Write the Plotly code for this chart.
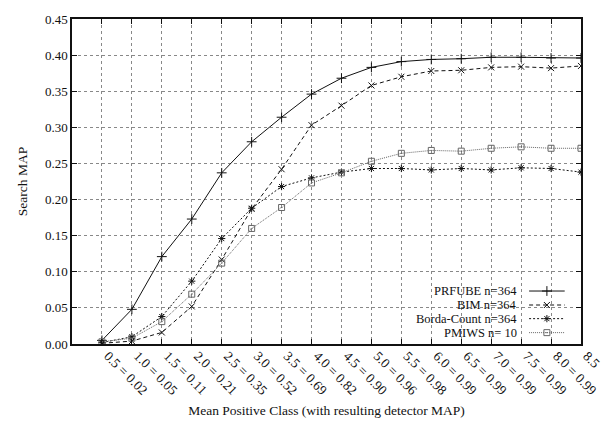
import plotly.graph_objects as go

# Mean positive class values and the resulting detector MAP for each setting
positive_class = ["0.5", "1.0", "1.5", "2.0", "2.5", "3.0", "3.5", "4.0", "4.5",
                  "5.0", "5.5", "6.0", "6.5", "7.0", "7.5", "8.0", "8.5"]
detector_map = ["0.02", "0.05", "0.11", "0.21", "0.35", "0.52", "0.69", "0.82", "0.90",
                "0.96", "0.98", "0.99", "0.99", "0.99", "0.99", "0.99", ""]

prfube = [0.005, 0.048, 0.121, 0.173, 0.237, 0.280, 0.314, 0.346, 0.368,
          0.383, 0.391, 0.394, 0.395, 0.397, 0.397, 0.396, 0.396]
bim = [0.001, 0.004, 0.016, 0.052, 0.117, 0.187, 0.242, 0.303, 0.330,
       0.358, 0.370, 0.378, 0.379, 0.383, 0.384, 0.382, 0.385]
borda = [0.002, 0.010, 0.038, 0.087, 0.146, 0.188, 0.218, 0.230, 0.238,
         0.243, 0.243, 0.241, 0.243, 0.241, 0.244, 0.243, 0.238]
pmiws = [0.003, 0.008, 0.031, 0.069, 0.112, 0.160, 0.189, 0.223, 0.237,
         0.253, 0.264, 0.268, 0.267, 0.271, 0.273, 0.271, 0.271]

series_names = ["PRFUBE n=364", "BIM n=364", "Borda-Count n=364", "PMIWS n= 10"]
series_values = [prfube, bim, borda, pmiws]

tick_text = [f"{p} = {m}" if m else p for p, m in zip(positive_class, detector_map)]

FONT = "Liberation Serif, Times New Roman, serif"
styles = [
    dict(dash="solid", symbol="cross-thin-open", color="#111", width=1.0, size=7),
    dict(dash="4px,3px", symbol="x-thin-open", color="#111", width=1.0, size=6),
    dict(dash="2px,2px", symbol="asterisk-open", color="#111", width=1.0, size=6),
    dict(dash="1px,1px", symbol="square-open-dot", color="#666", width=1.0, size=6),
]

fig = go.Figure()

for name, vals, st in zip(series_names, series_values, styles):
    fig.add_trace(go.Scatter(
        x=positive_class, y=vals, mode="lines+markers", name=name,
        line=dict(color=st["color"], width=st["width"], dash=st["dash"]),
        marker=dict(symbol=st["symbol"], size=st["size"], color=st["color"],
                    line=dict(color=st["color"], width=1.0)),
        showlegend=False, hoverinfo="skip",
    ))

# Key: right-aligned labels followed by line samples, in the lower-right corner
key_rows = [0.163, 0.120, 0.078, 0.035]
for name, st, ky in zip(series_names, styles, key_rows):
    fig.add_trace(go.Scatter(
        x=[0.898, 0.933, 0.968], y=[ky, ky, ky], xaxis="x2", yaxis="y2",
        mode="lines", line=dict(color=st["color"], width=st["width"], dash=st["dash"]),
        showlegend=False, hoverinfo="skip",
    ))
    fig.add_trace(go.Scatter(
        x=[0.933], y=[ky], xaxis="x2", yaxis="y2", mode="markers",
        marker=dict(symbol=st["symbol"], size=st["size"], color=st["color"],
                    line=dict(color=st["color"], width=1.0)),
        showlegend=False, hoverinfo="skip",
    ))
    fig.add_annotation(text=name, xref="paper", yref="paper", x=0.877, y=ky,
                       xanchor="right", yanchor="middle", showarrow=False,
                       borderpad=0, font=dict(family=FONT, size=12.5, color="#111"))

# Blank area behind the key so the grid does not run through it
fig.add_shape(type="rect", xref="paper", yref="paper", x0=0.603, x1=0.995,
              y0=0.005, y1=0.187, fillcolor="white", line=dict(width=0),
              layer="between")

axis_common = dict(
    showline=True, linecolor="#111", linewidth=1.5, mirror="ticks",
    ticks="inside", ticklen=5, tickcolor="#111",
    showgrid=True, gridcolor="#888", gridwidth=1, griddash="dot",
    zeroline=False,
)

fig.update_layout(
    width=615, height=435,
    margin=dict(l=72, r=19, t=12, b=91),
    paper_bgcolor="white", plot_bgcolor="white",
    xaxis=dict(type="category", range=[-1, 16], tickmode="array",
               tickvals=positive_class, ticktext=tick_text, tickangle=45,
               ticklabelshift=6, ticklabelstandoff=-3,
               tickfont=dict(family=FONT, size=13.5, color="#111"),
               title=dict(text="Mean Positive Class (with resulting detector MAP)",
                          font=dict(family=FONT, size=13.5, color="#111"), standoff=8),
               **axis_common),
    yaxis=dict(range=[0, 0.45], dtick=0.05, tickformat=".2f",
               tickfont=dict(family=FONT, size=13, color="#111"),
               title=dict(text="Search MAP", font=dict(family=FONT, size=13.5, color="#111"),
                          standoff=14),
               **axis_common),
    xaxis2=dict(overlaying="x", range=[0, 1], visible=False, fixedrange=True),
    yaxis2=dict(overlaying="y", range=[0, 1], visible=False, fixedrange=True),
    showlegend=False,
)

fig.write_html("out.html")
